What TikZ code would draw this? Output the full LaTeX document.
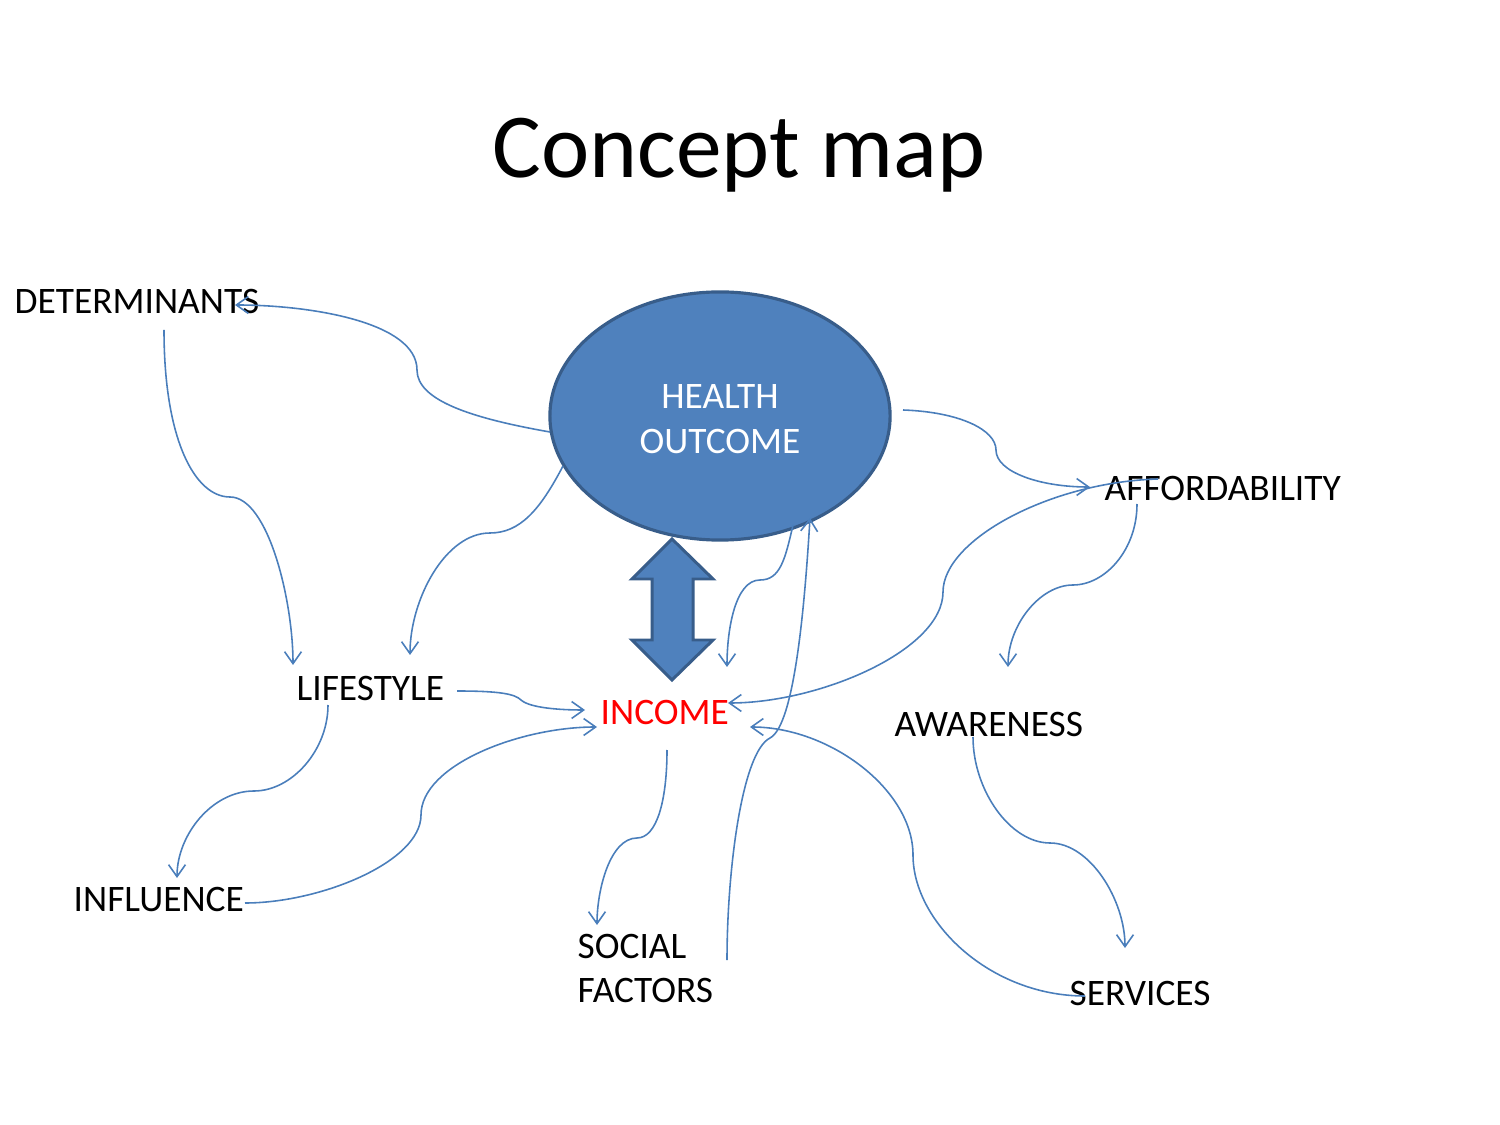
\documentclass[tikz,border=0pt]{standalone}
\usepackage{fontspec}
\setmainfont{Carlito}
\usetikzlibrary{arrows.meta,shapes.geometric}
\definecolor{hoblue}{HTML}{4F81BD}
\definecolor{hoedge}{HTML}{385D8A}
\definecolor{connblue}{HTML}{4A7EBB}
\definecolor{incred}{HTML}{FF0000}
\begin{document}
\begin{tikzpicture}[x=0.01cm,y=-0.01cm,
  lbl/.style={inner sep=0pt,anchor=west,font=\fontsize{10.63}{12.76}\selectfont},
  conn/.style={draw=connblue,line width=0.45pt,-{Straight Barb[length=3.4pt,width=4.8pt]}},
  plain/.style={draw=connblue,line width=0.45pt}]
\useasboundingbox (0,0) rectangle (1500,1125);
% title
\node[inner sep=0pt,anchor=base,font=\fontsize{26}{31}\selectfont] (title) at (739,178) {Concept map};
% central ellipse
\node[ellipse,draw=hoedge,fill=hoblue,line width=0.9pt,minimum width=3.4cm,minimum height=2.48cm,inner sep=0pt] (ho) at (720,416) {};
\node[inner sep=0pt,text=white,align=center,font=\fontsize{10.63}{12.76}\selectfont] (hotext) at (720,419) {HEALTH\\OUTCOME};
% labels
\node[lbl] (det) at (14,302) {DETERMINANTS};
\node[lbl] (aff) at (1104,489) {AFFORDABILITY};
\node[lbl] (life) at (296,688) {LIFESTYLE};
\node[lbl,text=incred] (inc) at (600,712) {INCOME};
\node[lbl] (awa) at (894,724) {AWARENESS};
\node[lbl] (infl) at (73,900) {INFLUENCE};
\node[lbl] (serv) at (1069,993) {SERVICES};
\node[lbl,align=left] (soc) at (577,968.5) {SOCIAL\\FACTORS};
% double arrow
\draw[draw=hoedge,fill=hoblue,line width=0.85pt,line join=miter] (672,539) -- (713,579) -- (693,579) -- (693,640) -- (713,640)
  -- (672,680) -- (632,640) -- (652,640) -- (652,579) -- (632,579) -- cycle;
% connector end points
\coordinate (hoL) at (550,432);
\coordinate (detE) at (235,305);
\coordinate (detS) at (164,330);
\coordinate (lifeN1) at (293,665);
\coordinate (hoSW) at (563,466);
\coordinate (lifeN2) at (410,655);
\coordinate (hoE) at (903,410);
\coordinate (affW) at (1090,487);
\coordinate (affT) at (1158,479);
\coordinate (incE1) at (728,703);
\coordinate (affS) at (1137,504);
\coordinate (awaN) at (1008,667);
\coordinate (lifeE) at (457,691);
\coordinate (incW1) at (585,710);
\coordinate (lifeS) at (328,705);
\coordinate (inflN) at (177,878);
\coordinate (inflE) at (245,903);
\coordinate (incW2) at (597,727);
\coordinate (hoS1) at (793,525);
\coordinate (incN) at (727,667);
\coordinate (socE) at (727,960);
\coordinate (hoS2) at (810,518);
\coordinate (incS) at (667,750);
\coordinate (socN) at (597,925);
\coordinate (servW) at (1085,996);
\coordinate (incE2) at (750,727);
\coordinate (awaS) at (973,737);
\coordinate (servN) at (1125,948);
% connectors
\draw[conn] (hoL) .. controls (470,418) and (417,400) .. (417,370) .. controls (417,322) and (310,305) .. (detE);
\draw[conn] (detS) .. controls (164,440) and (195,497) .. (230,497) .. controls (268,497) and (293,600) .. (lifeN1);
\draw[conn] (hoSW) .. controls (540,510) and (520,533) .. (490,533) .. controls (445,533) and (410,600) .. (lifeN2);
\draw[conn] (hoE) .. controls (960,412) and (996,430) .. (996,450) .. controls (996,472) and (1040,487) .. (affW);
\draw[conn] (affT) .. controls (1050,482) and (943,540) .. (943,592) .. controls (943,650) and (820,703) .. (incE1);
\draw[conn] (affS) .. controls (1137,550) and (1105,585) .. (1073,585) .. controls (1040,585) and (1008,625) .. (awaN);
\draw[conn] (lifeE) .. controls (500,691) and (515,694) .. (521,700) .. controls (530,708) and (560,710) .. (incW1);
\draw[conn] (lifeS) .. controls (328,750) and (292,791) .. (254,791) .. controls (212,791) and (177,835) .. (inflN);
\draw[conn] (inflE) .. controls (320,903) and (421,862) .. (421,815) .. controls (421,765) and (520,727) .. (incW2);
\draw[conn] (hoS1) .. controls (785,560) and (780,580) .. (760,580) .. controls (735,580) and (727,630) .. (incN);
\draw[conn] (socE) .. controls (727,870) and (742,752) .. (770,738) .. controls (795,725) and (805,600) .. (hoS2);
\draw[conn] (incS) .. controls (667,800) and (657,838) .. (637,838) .. controls (610,838) and (597,890) .. (socN);
\draw[conn] (servW) .. controls (990,996) and (913,922) .. (913,855) .. controls (913,790) and (830,727) .. (incE2);
\draw[conn] (awaS) .. controls (973,790) and (1010,843) .. (1050,843) .. controls (1090,843) and (1125,900) .. (servN);
\end{tikzpicture}
\end{document}
